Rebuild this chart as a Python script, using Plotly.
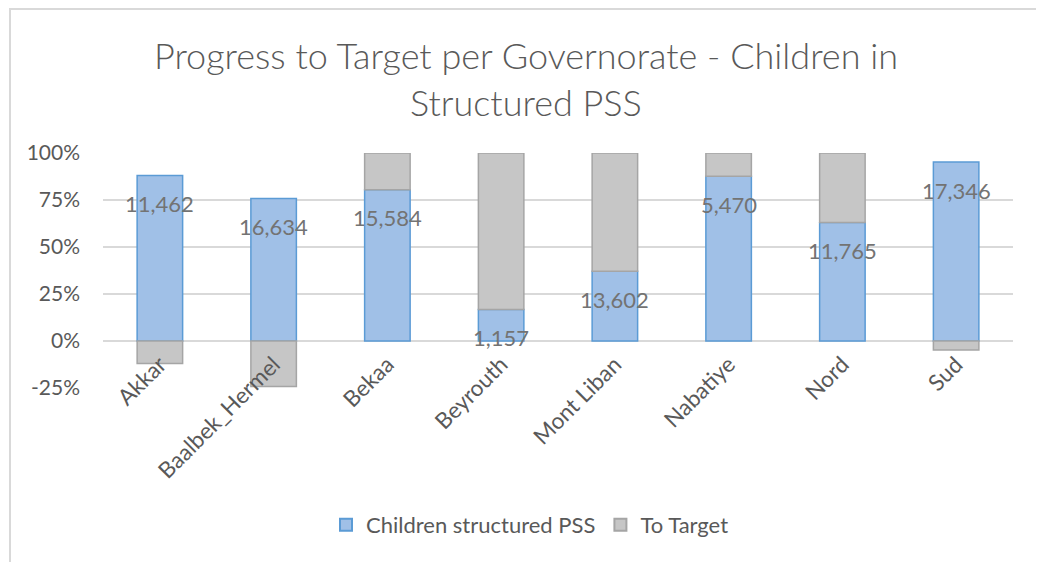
import plotly.graph_objects as go

categories = ["Akkar", "Baalbek_Hermel", "Bekaa", "Beyrouth", "Mont Liban", "Nabatiye", "Nord", "Sud"]
children_pct = [88.0, 75.8, 80.5, 16.7, 37.1, 87.6, 63.0, 95.2]
to_target_pct = [-12.0, -24.2, 19.5, 83.3, 62.9, 12.4, 37.0, -4.8]
children_counts = ["11,462", "16,634", "15,584", "1,157", "13,602", "5,470", "11,765", "17,346"]
y_tickvals = [-25, 0, 25, 50, 75, 100]
y_ticktext = ["-25%", "0%", "25%", "50%", "75%", "100%"]

FONT = "Lato"
AXIS_COLOR = "#595959"

fig = go.Figure()
fig.add_trace(go.Bar(
    x=categories, y=children_pct, name="Children structured PSS",
    marker=dict(color="#a0c0e7", line=dict(color="#5b9bd5", width=1.5)),
))
fig.add_trace(go.Bar(
    x=categories, y=to_target_pct, name="To Target",
    marker=dict(color="#c6c6c6", line=dict(color="#a5a5a5", width=1.5)),
))

for c, v, t in zip(categories, children_pct, children_counts):
    fig.add_annotation(x=c, y=v, text=t, showarrow=False, yshift=-28,
                       xanchor="center", yanchor="middle",
                       font=dict(family=FONT, size=22, color="#737373"))

# page body has an 8px margin: figure occupies page pixels 8..1044, 8..562
OFF = 8
W, H = 1044 - OFF, 562 - OFF
L, R, T, B = 103 - OFF, 31, 153 - OFF, 174
pw, ph = W - L - R, H - T - B

def px_to_paper_x(px):
    return (px - OFF - L) / pw

def px_to_paper_y(py):
    return (H - B - (py - OFF)) / ph

fig.add_shape(type="rect", xref="paper", yref="paper",
              x0=px_to_paper_x(10), x1=px_to_paper_x(1042),
              y0=px_to_paper_y(580), y1=px_to_paper_y(9),
              line=dict(color="#d9d9d9", width=2), fillcolor="rgba(0,0,0,0)")

fig.update_layout(
    width=W, height=H,
    margin=dict(l=L, r=R, t=T, b=B, autoexpand=False),
    paper_bgcolor="white", plot_bgcolor="white",
    barmode="relative", bargap=0.6,
    title=dict(text="Progress to Target per Governorate - Children in<br>Structured PSS",
               x=(526 - OFF) / W, xref="container", xanchor="center",
               y=1 - (69 - OFF) / H, yref="container", yanchor="middle",
               font=dict(family=FONT, size=36, color=AXIS_COLOR, weight=300)),
    legend=dict(orientation="h", x=px_to_paper_x(530), xanchor="center", xref="paper",
                y=px_to_paper_y(525), yanchor="middle",
                font=dict(family=FONT, size=22, color=AXIS_COLOR),
                itemsizing="constant", traceorder="normal"),
    showlegend=True,
    yaxis=dict(range=[-25, 100], tickvals=y_tickvals, ticktext=y_ticktext,
               showgrid=True, gridcolor="#d9d9d9", gridwidth=1.5,
               zeroline=True, zerolinecolor="#d9d9d9", zerolinewidth=1.5,
               showline=False, ticklabelstandoff=22,
               tickfont=dict(family=FONT, size=21, color=AXIS_COLOR)),
    xaxis=dict(anchor="free", position=25 / 125, tickangle=-45,
               showline=False, showgrid=False, ticks="",
               ticklabelstandoff=5,
               tickfont=dict(family=FONT, size=22.5, color=AXIS_COLOR)),
)

fig.write_html("out.html")
